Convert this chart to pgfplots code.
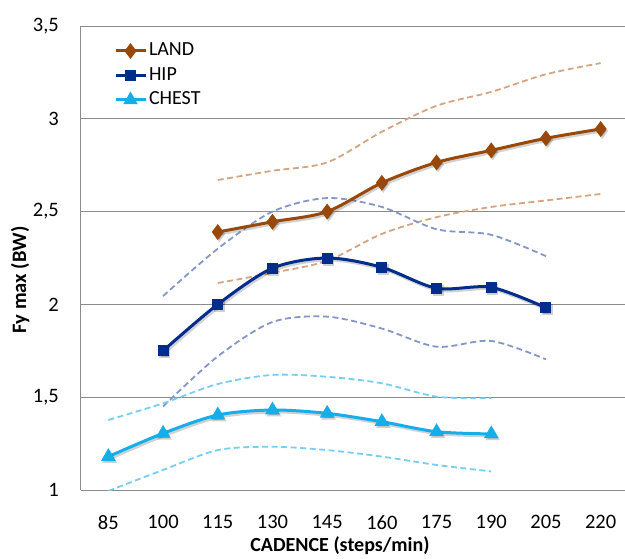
\documentclass[border=0pt]{standalone}
\usepackage{fontspec}
\setmainfont{Carlito}
\usepackage{pgfplots}
\pgfplotsset{compat=1.18}
\definecolor{land}{RGB}{152,72,8}
\definecolor{hip}{RGB}{0,45,140}
\definecolor{chest}{RGB}{20,174,232}
\definecolor{landd}{RGB}{214,164,128}
\definecolor{hipd}{RGB}{132,150,200}
\definecolor{chestd}{RGB}{120,205,242}
\definecolor{gridc}{RGB}{140,140,140}
\begin{document}
\begin{tikzpicture}
\begin{axis}[
  at={(81pt,68pt)}, anchor=south west,
  scale only axis, width=547pt, height=464pt,
  xmin=77.5, xmax=227.5, ymin=1, ymax=3.5,
  xtick={85,100,115,130,145,160,175,190,205,220},
  ytick={1,1.5,2,2.5,3,3.5},
  ymajorgrids, grid style={gridc, line width=1pt},
  axis x line*=bottom, axis y line*=left,
  axis line style={gridc, line width=1pt, -},
  major tick length=0pt,
  tick label style={font=\fontsize{20.5}{24}\selectfont, inner sep=0pt},
  yticklabel style={anchor=east, xshift=-22pt},
  xticklabel style={anchor=north, yshift=-25pt},
  /pgf/number format/assume math mode=true,
  /pgf/number format/use comma,
  xlabel={CADENCE (steps/min)},
  ylabel={Fy max (BW)},
  xlabel style={font=\fontsize{20}{24}\selectfont\bfseries, at={(axis description cs:0.4735,-0.1315)}, anchor=base},
  ylabel style={font=\fontsize{20.5}{24}\selectfont\bfseries, at={(axis description cs:-0.1115,0.4526)}, anchor=center},
  legend style={draw=none, fill=none, at={(axis description cs:0.06,0.973)}, anchor=north west,
    font=\fontsize{20}{24}\selectfont, inner sep=0pt, row sep=0pt,
    nodes={inner sep=2pt, text height=15pt, text depth=5.5pt}},
  legend cell align=left,
  legend image code/.code={\draw[mark repeat=2,mark phase=2,#1] plot coordinates {(0pt,0pt) (15pt,0pt) (30pt,0pt)};},
]
% confidence bands (dashed)
\addplot[forget plot, smooth, landd, line width=1.8pt, dash pattern=on 6pt off 3.5pt] coordinates {(115,2.67)(130,2.72)(145,2.765)(160,2.93)(175,3.07)(190,3.145)(205,3.24)(220,3.30)};
\addplot[forget plot, smooth, landd, line width=1.8pt, dash pattern=on 6pt off 3.5pt] coordinates {(115,2.115)(130,2.17)(145,2.235)(160,2.38)(175,2.47)(190,2.525)(205,2.56)(220,2.595)};
\addplot[forget plot, smooth, hipd, line width=1.8pt, dash pattern=on 6pt off 3.5pt] coordinates {(100,2.045)(115,2.30)(130,2.50)(145,2.573)(160,2.525)(175,2.405)(190,2.375)(205,2.26)};
\addplot[forget plot, smooth, hipd, line width=1.8pt, dash pattern=on 6pt off 3.5pt] coordinates {(100,1.45)(115,1.72)(130,1.905)(145,1.934)(160,1.87)(175,1.772)(190,1.803)(205,1.704)};
\addplot[forget plot, smooth, chestd, line width=1.8pt, dash pattern=on 6pt off 3.5pt] coordinates {(85,1.377)(100,1.467)(115,1.571)(130,1.62)(145,1.61)(160,1.575)(175,1.503)(190,1.494)};
\addplot[forget plot, smooth, chestd, line width=1.8pt, dash pattern=on 6pt off 3.5pt] coordinates {(85,0.995)(100,1.108)(115,1.215)(130,1.233)(145,1.215)(160,1.18)(175,1.135)(190,1.10)};
% shadows
\addplot[forget plot, smooth, black, opacity=0.18, line width=3pt, xshift=1.5pt, yshift=-2pt, mark=diamond*, mark size=5.5pt] coordinates {(115,2.39)(130,2.445)(145,2.50)(160,2.655)(175,2.765)(190,2.83)(205,2.895)(220,2.945)};
\addplot[forget plot, smooth, black, opacity=0.18, line width=3pt, xshift=1.5pt, yshift=-2pt, mark=square*, mark size=4pt] coordinates {(100,1.75)(115,2.00)(130,2.195)(145,2.25)(160,2.20)(175,2.087)(190,2.092)(205,1.982)};
\addplot[forget plot, smooth, black, opacity=0.18, line width=3pt, xshift=1.5pt, yshift=-2pt, mark=triangle*, mark size=5.5pt] coordinates {(85,1.18)(100,1.305)(115,1.404)(130,1.431)(145,1.413)(160,1.368)(175,1.314)(190,1.302)};
% main series
\addplot[smooth, land, line width=3pt, mark=diamond*, mark size=5.5pt, mark options={solid}] coordinates {(115,2.39)(130,2.445)(145,2.50)(160,2.655)(175,2.765)(190,2.83)(205,2.895)(220,2.945)};
\addlegendentry{LAND}
\addplot[smooth, hip, line width=3pt, mark=square*, mark size=4pt, mark options={solid}] coordinates {(100,1.75)(115,2.00)(130,2.195)(145,2.25)(160,2.20)(175,2.087)(190,2.092)(205,1.982)};
\addlegendentry{HIP}
\addplot[smooth, chest, line width=3pt, mark=triangle*, mark size=5.5pt, mark options={solid}] coordinates {(85,1.18)(100,1.305)(115,1.404)(130,1.431)(145,1.413)(160,1.368)(175,1.314)(190,1.302)};
\addlegendentry{CHEST}
\end{axis}
\pgfresetboundingbox
\path[use as bounding box] (0pt,0pt) rectangle (625pt,558pt);
\end{tikzpicture}
\end{document}
